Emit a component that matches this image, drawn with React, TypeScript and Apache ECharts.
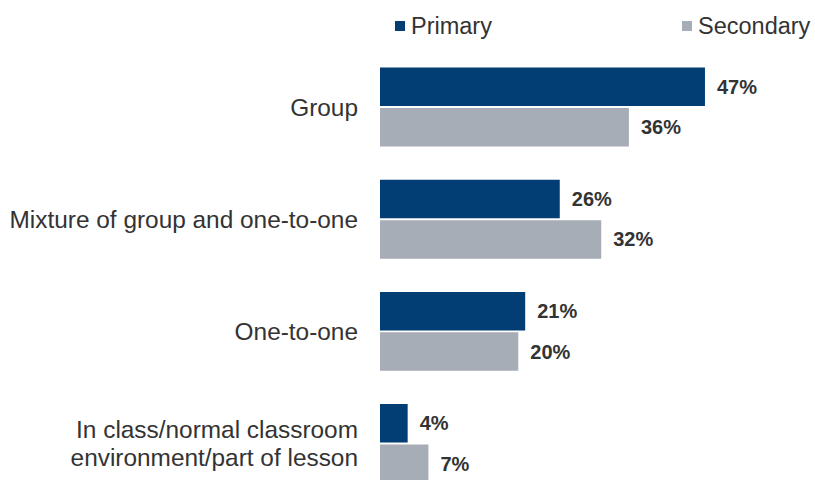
import React, { useEffect, useRef } from "react";
import * as echarts from "echarts";

const categories = [
  "Group",
  "Mixture of group and one-to-one",
  "One-to-one",
  "In class/normal classroom\nenvironment/part of lesson",
];
const primary = [47, 26, 21, 4];
const secondary = [36, 32, 20, 7];
const seriesNames = ["Primary", "Secondary"];

export default function App() {
  const ref = useRef<HTMLDivElement>(null);
  useEffect(() => {
    if (!ref.current) return;
    const chart = echarts.init(ref.current, null, { renderer: "svg" });
    const font = "'Liberation Sans', Arial, sans-serif";
    const labelStyle = {
      show: true,
      position: "right" as const,
      distance: 12,
      formatter: "{c}%",
      fontFamily: font,
      fontSize: 20,
      fontWeight: "bold" as const,
      color: "#333333",
    };
    const legendBase = {
      top: 9,
      icon: "rect",
      itemWidth: 10,
      itemHeight: 10,
      width: 300,
      textStyle: {
        fontSize: 23.5,
        color: "#333333",
        fontFamily: font,
        padding: [0, 0, 0, 1],
      },
    };
    chart.setOption({
      animation: false,
      textStyle: { fontFamily: font },
      legend: [
        { ...legendBase, left: 390, data: [seriesNames[0]] },
        { ...legendBase, left: 677, data: [seriesNames[1]] },
      ],
      grid: { left: 380, top: 51, width: 345.7, height: 448.6, containLabel: false },
      xAxis: {
        type: "value",
        min: 0,
        max: 50,
        show: false,
      },
      yAxis: {
        type: "category",
        inverse: true,
        data: categories,
        axisLine: { show: false },
        axisTick: { show: false },
        splitLine: { show: false },
        axisLabel: {
          margin: 22,
          fontSize: 24.4,
          lineHeight: 28,
          color: "#333333",
          fontFamily: font,
        },
      },
      series: [
        {
          name: seriesNames[0],
          type: "bar",
          data: primary,
          barWidth: 38.5,
          barGap: "5%",
          itemStyle: { color: "#023d73" },
          label: labelStyle,
        },
        {
          name: seriesNames[1],
          type: "bar",
          data: secondary,
          barWidth: 38.5,
          barGap: "5%",
          itemStyle: { color: "#a6adb6" },
          label: labelStyle,
        },
      ],
    });
    return () => chart.dispose();
  }, []);
  return (
    <div
      ref={ref}
      style={{ position: "fixed", left: 0, top: 0, width: 815, height: 520, background: "#fff" }}
    />
  );
}
